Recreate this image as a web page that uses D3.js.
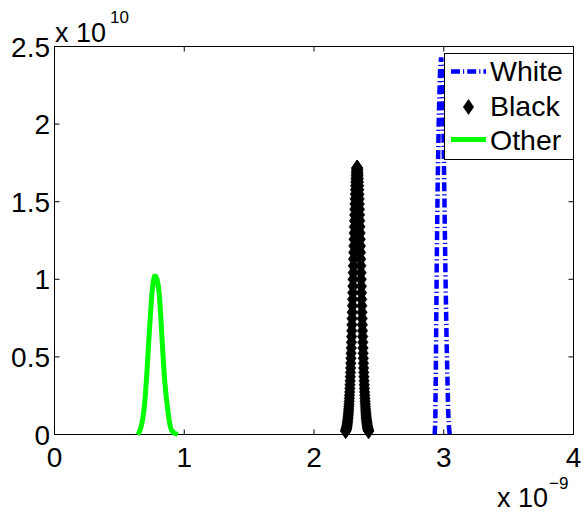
<!DOCTYPE html>
<html><head><meta charset="utf-8">
<script src="https://cdn.jsdelivr.net/npm/d3@7"></script>
<style>
body{margin:0;background:#fff}
svg{display:block}
text{font-family:"Liberation Sans",Arial,Helvetica,sans-serif;fill:#000}
</style>
</head><body>
<svg id="chart" width="585" height="516"></svg>
<script>
// ---- data (x in units of 1e-9, y in units of 1e10) ----
const xTicks = [0, 1, 2, 3, 4];
const xTickLabels = ["0", "1", "2", "3", "4"];
const yTicks = [0, 0.5, 1, 1.5, 2, 2.5];
const yTickLabels = ["0", "0.5", "1", "1.5", "2", "2.5"];
const seriesNames = ["White", "Black", "Other"];

const whiteX = [2.930, 2.935, 2.940, 2.946, 2.953, 2.962, 2.972, 2.980, 2.988, 2.996, 3.004, 3.012, 3.022, 3.034, 3.040, 3.046];
const whiteY = [0.00, 0.08, 0.50, 1.10, 1.60, 2.05, 2.35, 2.43, 2.36, 2.05, 1.60, 1.10, 0.60, 0.15, 0.05, 0.00];

const blackX = [
 2.24375, 2.245, 2.24625, 2.2475, 2.24875,
 2.25, 2.25125, 2.2525, 2.25375, 2.255, 2.25625, 2.2575, 2.25875,
 2.26, 2.26125, 2.2625, 2.26375, 2.265, 2.26625, 2.2675, 2.26875,
 2.27, 2.27125, 2.2725, 2.27375, 2.275, 2.27625, 2.2775, 2.27875,
 2.28, 2.28125, 2.2825, 2.28375, 2.285, 2.28625, 2.2875, 2.28875,
 2.29, 2.29125, 2.2925, 2.29375, 2.295, 2.29625, 2.2975, 2.29875,
 2.30, 2.30125, 2.3025, 2.30375, 2.305, 2.30625, 2.3075, 2.30875,
 2.31, 2.31125, 2.3125, 2.31375, 2.315, 2.31625, 2.3175, 2.31875,
 2.32, 2.32125, 2.3225, 2.32375, 2.325, 2.32625, 2.3275, 2.32875,
 2.33, 2.33125, 2.3325, 2.33375, 2.335, 2.33625, 2.3375, 2.33875,
 2.34, 2.34125, 2.3425, 2.34375, 2.345, 2.34625, 2.3475, 2.34875,
 2.35, 2.35125, 2.3525, 2.35375, 2.355, 2.35625, 2.3575, 2.35875,
 2.36, 2.36125, 2.3625, 2.36375, 2.365, 2.36625, 2.3675, 2.36875,
 2.37, 2.37125, 2.3725, 2.37375, 2.375, 2.37625, 2.3775, 2.37875,
 2.38, 2.38125, 2.3825, 2.38375, 2.385, 2.38625, 2.3875, 2.38875,
 2.39, 2.39125, 2.3925, 2.39375, 2.395, 2.39625, 2.3975, 2.39875,
 2.40, 2.40125, 2.4025, 2.40375, 2.405, 2.40625, 2.4075, 2.40875,
 2.41, 2.41125, 2.4125, 2.41375, 2.415, 2.41625, 2.4175, 2.41875,
 2.42, 2.42125];
const blackY = [
 0.0216, 0.024, 0.0276, 0.031, 0.0349, 0.039, 0.0439, 0.049, 0.0549, 0.061,
 0.068, 0.076, 0.0838, 0.093, 0.1025, 0.113, 0.1245, 0.137, 0.1501, 0.164,
 0.1799, 0.196, 0.214, 0.233, 0.2528, 0.274, 0.2966, 0.320, 0.3455, 0.372,
 0.3998, 0.429, 0.4593, 0.491, 0.5241, 0.558, 0.5939, 0.631, 0.6683, 0.707,
 0.7469, 0.787, 0.8289, 0.871, 0.9134, 0.956, 0.9997, 1.043, 1.0867, 1.130,
 1.173, 1.215, 1.2573, 1.298, 1.3384, 1.377, 1.4148, 1.451, 1.4853, 1.518,
 1.5485, 1.577, 1.6032, 1.627, 1.6484, 1.667, 1.6831, 1.696, 1.7066, 1.714,
 1.7185,
 1.720,
 1.7185,
 1.714, 1.7066, 1.696, 1.6831, 1.667, 1.6484, 1.627, 1.6032, 1.577, 1.5485,
 1.518, 1.4853, 1.451, 1.4148, 1.377, 1.3384, 1.298, 1.2573, 1.215, 1.173,
 1.130, 1.0867, 1.043, 0.9997, 0.956, 0.9134, 0.871, 0.8289, 0.787, 0.7469,
 0.707, 0.6683, 0.631, 0.5939, 0.558, 0.5241, 0.491, 0.4593, 0.429, 0.3998,
 0.372, 0.3455, 0.320, 0.2966, 0.274, 0.2528, 0.233, 0.214, 0.196, 0.1799,
 0.164, 0.1501, 0.137, 0.1245, 0.113, 0.1025, 0.093, 0.0838, 0.076, 0.068,
 0.061, 0.0549, 0.049, 0.0439, 0.039, 0.0349, 0.031, 0.0276, 0.024, 0.0216];

const otherX = [0.64, 0.65, 0.66, 0.67, 0.68, 0.69, 0.70, 0.71, 0.72, 0.73, 0.74, 0.75, 0.76, 0.77, 0.78, 0.79, 0.80, 0.81, 0.82, 0.83, 0.84, 0.85, 0.86, 0.87, 0.88, 0.89, 0.90, 0.92, 0.95];
const otherY = [0.00, 0.01, 0.03, 0.06, 0.10, 0.16, 0.25, 0.37, 0.51, 0.65, 0.78, 0.90, 0.98, 1.02, 1.02, 1.00, 0.96, 0.88, 0.75, 0.60, 0.46, 0.34, 0.25, 0.18, 0.11, 0.06, 0.03, 0.01, 0.00];

// ---- layout ----
const svg = d3.select("#chart");
const L = 54.5, R = 573.5, T = 46.5, B = 434.5;
const x = d3.scaleLinear().domain([0, 4]).range([L, R]);
const y = d3.scaleLinear().domain([0, 2.5]).range([B, T]);
const FS = 28;

// axes box
svg.append("rect").attr("x", L).attr("y", T).attr("width", R - L).attr("height", B - T)
  .attr("fill", "#fff").attr("stroke", "#000").attr("stroke-width", 1);

// ticks (inside) on all four sides
const tl = 5;
const tickG = svg.append("g").attr("stroke", "#000").attr("stroke-width", 1);
xTicks.forEach(v => {
  tickG.append("line").attr("x1", x(v)).attr("x2", x(v)).attr("y1", B).attr("y2", B - tl);
  tickG.append("line").attr("x1", x(v)).attr("x2", x(v)).attr("y1", T).attr("y2", T + tl);
});
yTicks.forEach(v => {
  tickG.append("line").attr("x1", L).attr("x2", L + tl).attr("y1", y(v)).attr("y2", y(v));
  tickG.append("line").attr("x1", R).attr("x2", R - tl).attr("y1", y(v)).attr("y2", y(v));
});

// tick labels
svg.append("g").selectAll("text").data(xTicks).join("text")
  .attr("x", d => x(d)).attr("y", 467).attr("text-anchor", "middle")
  .attr("font-size", FS).text((d, i) => xTickLabels[i]);
svg.append("g").selectAll("text").data(yTicks).join("text")
  .attr("x", 50).attr("y", d => y(d)).attr("dy", "0.36em").attr("text-anchor", "end")
  .attr("font-size", FS).text((d, i) => yTickLabels[i]);

// exponent labels
svg.append("text").attr("x", 55).attr("y", 42).attr("font-size", 27).text("x 10");
svg.append("text").attr("x", 110).attr("y", 23).attr("font-size", 17).text("10");
svg.append("text").attr("x", 497).attr("y", 507).attr("font-size", 27).text("x 10");
svg.append("text").attr("x", 549).attr("y", 489).attr("font-size", 17).text("\u22129");

// ---- series ----
const line = d3.line().x(d => x(d[0])).y(d => y(d[1]));
const white = whiteX.map((v, i) => [v, whiteY[i]]);
const black = blackX.map((v, i) => [v, blackY[i]]);
const other = otherX.map((v, i) => [v, otherY[i]]);

const dash = "9,3,1.2,3";
svg.append("path").datum(white).attr("d", line).attr("fill", "none")
  .attr("stroke", "#0000ff").attr("stroke-width", 4.5).attr("stroke-dasharray", dash);

svg.append("path").datum(black).attr("d", line).attr("fill", "none")
  .attr("stroke", "#000").attr("stroke-width", 2);
const diamond = (cx, cy) => `M${cx},${cy - 7.5}L${cx + 5.2},${cy}L${cx},${cy + 7.5}L${cx - 5.2},${cy}Z`;
svg.append("g").selectAll("path").data(black).join("path")
  .attr("d", d => diamond(x(d[0]), y(d[1])))
  .attr("fill", "#000").attr("stroke", "#000").attr("stroke-width", 0.6);

svg.append("path").datum(other).attr("d", line).attr("fill", "none")
  .attr("stroke", "#00ff00").attr("stroke-width", 5).attr("stroke-linejoin", "round");

// ---- legend ----
const lg = svg.append("g");
lg.append("rect").attr("x", 444.5).attr("y", 53.5).attr("width", 129).attr("height", 106)
  .attr("fill", "#fff").attr("stroke", "#000").attr("stroke-width", 1);
const rows = [71.5, 107, 139.5];
const baselines = [80.5, 115.5, 150];
lg.append("line").attr("x1", 451).attr("x2", 486).attr("y1", rows[0]).attr("y2", rows[0])
  .attr("stroke", "#0000ff").attr("stroke-width", 4.5).attr("stroke-dasharray", dash);
lg.append("path").attr("d", diamond(468.5, rows[1])).attr("fill", "#000").attr("stroke", "#000").attr("stroke-width", 0.6);
lg.append("line").attr("x1", 451).attr("x2", 486).attr("y1", rows[2]).attr("y2", rows[2])
  .attr("stroke", "#00ff00").attr("stroke-width", 5);
lg.selectAll("text.lab").data(seriesNames).join("text").attr("class", "lab")
  .attr("x", 490).attr("y", (d, i) => baselines[i]).attr("font-size", 28.5).text(d => d);
</script>
</body></html>
